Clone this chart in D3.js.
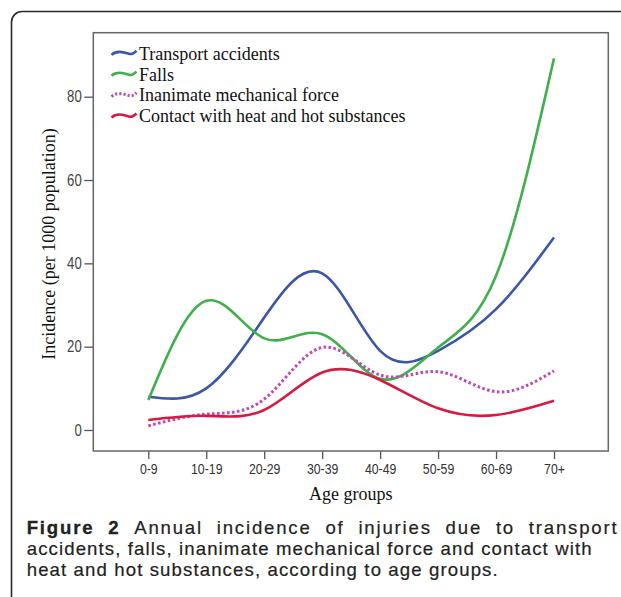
<!DOCTYPE html>
<html><head><meta charset="utf-8">
<script src="https://cdn.jsdelivr.net/npm/d3@7"></script>
<style>
html,body{margin:0;padding:0;background:#fff;}
svg{display:block;}
</style></head>
<body>
<svg id="chart" width="621" height="597"></svg>
<script>
const ageGroups = ["0-9","10-19","20-29","30-39","40-49","50-59","60-69","70+"];
const transport = [8.0, 10.0, 27.0, 37.6, 19.0, 19.0, 29.0, 46.2];
const falls     = [7.2, 31.0, 22.0, 23.0, 12.3, 19.8, 37.0, 89.2];
const inanimate = [1.0, 3.8, 7.4, 19.8, 13.2, 14.0, 9.2, 14.2];
const heat      = [2.4, 3.4, 4.8, 13.8, 12.0, 5.2, 3.6, 7.0];
const yTicks = [0, 20, 40, 60, 80];
const seriesNames = ["Transport accidents","Falls","Inanimate mechanical force","Contact with heat and hot substances"];
const seriesColors = ["#3c56a8","#3fb04b","#c04ab4","#d81a42"];
const xTitle = "Age groups";
const yTitle = "Incidence (per 1000 population)";
const captionBold = "Figure 2";
const captionLines = [
  "Annual incidence of injuries due to transport",
  "accidents, falls, inanimate mechanical force and contact with",
  "heat and hot substances, according to age groups."
];

const series = [transport, falls, inanimate, heat];
const svg = d3.select("#chart");

// card border
svg.append("path")
  .attr("d", "M11.5,597 V22 A10.5,10.5 0 0 1 22,11.5 H621")
  .attr("fill","none").attr("stroke","#2a2a2a").attr("stroke-width",1.6);

const L = 93.3, T = 32.7, R = 608.3, B = 451;
const x = d3.scalePoint().domain(ageGroups).range([148.3, 554]);
const y = d3.scaleLinear().domain([0, 80]).range([430, 96.7]);

const sans = "'Liberation Sans',Arial,sans-serif";
const serif = "'Liberation Serif','Times New Roman',serif";
const squeeze = 0.82;

// y axis
const ya = svg.append("g").attr("transform", `translate(${L},0)`)
  .call(d3.axisLeft(y).tickValues(yTicks).tickSize(9).tickPadding(2).tickFormat(d3.format("d")));
ya.select(".domain").remove();
ya.selectAll("line").attr("stroke","#555").attr("stroke-width",1.3);
ya.selectAll("text").attr("fill","#444").style("font-family",sans).style("font-size","16px")
  .attr("x", -11.6/squeeze).attr("transform", `scale(${squeeze},1)`);

// x axis
const xa = svg.append("g").attr("transform", `translate(0,${B})`)
  .call(d3.axisBottom(x).tickSize(8).tickPadding(4));
xa.select(".domain").remove();
xa.selectAll("line").attr("stroke","#555").attr("stroke-width",1.3);
xa.selectAll("text").attr("fill","#333").style("font-family",sans).style("font-size","15px")
  .attr("transform", `scale(${squeeze},1)`);

// frame
svg.append("rect").attr("x",L).attr("y",T).attr("width",R-L).attr("height",B-T)
  .attr("fill","none").attr("stroke","#666").attr("stroke-width",1.5);

// lines
const line = d3.line().x((d,i)=>x(ageGroups[i])).y(d=>y(d)).curve(d3.curveNatural);
series.forEach((s, k) => {
  svg.append("path").datum(s).attr("d", line)
    .attr("fill","none").attr("stroke", seriesColors[k])
    .attr("stroke-width", k===2 ? 3 : 2.6)
    .attr("stroke-dasharray", k===2 ? "2.6,2.4" : null)
    .attr("stroke-linecap", "butt");
});

// legend
const lg = svg.append("g");
seriesNames.forEach((n, i) => {
  const cy = 53.3 + i*20.9;
  lg.append("path")
    .attr("d", `M111.5,${cy+1.5} C117,${cy-3.5} 124,${cy-1} 129,${cy+0.5} C132,${cy+1.5} 134.5,${cy-0.5} 136.5,${cy-2.5}`)
    .attr("fill","none").attr("stroke", seriesColors[i]).attr("stroke-width", i===2?3:2.6)
    .attr("stroke-dasharray", i===2 ? "2.2,2" : null);
  lg.append("text").attr("x",139).attr("y",cy).attr("dy","0.35em")
    .style("font-family",serif).style("font-size","18px").attr("fill","#111").text(n);
});

// axis titles
svg.append("text").attr("x",(L+R)/2).attr("y",500).attr("text-anchor","middle")
  .style("font-family",serif).style("font-size","18px").attr("fill","#111").text(xTitle);
svg.append("text").attr("transform","translate(55,244) rotate(-90)").attr("text-anchor","middle")
  .style("font-family",serif).style("font-size","18px").attr("fill","#111").text(yTitle);

// caption (three lines; line 1 justified)
const capFont = "'Liberation Sans',Arial,sans-serif";
const capX = 26.7, capRight = 616.7, capW = 400;
function measure(str, weight, size, ls) {
  const t = svg.append("text").style("font-family",capFont).style("font-weight",weight)
    .style("font-size",size+"px").style("letter-spacing",(ls||0)+"px").text(str);
  const w = t.node().getComputedTextLength();
  t.remove();
  return w;
}
const fsFit = 10 * 566 / measure(captionLines[1], capW, 10, 0);
const fs = Math.min(fsFit, 18.6);
const ls2 = Math.max(0, (566 - measure(captionLines[1], capW, fs, 0)) / captionLines[1].length);
const ls1 = ls2 + 0.7;
const words1 = captionBold.split(" ").map(w => ({w, bold:true}))
  .concat(captionLines[0].split(" ").map(w => ({w, bold:false})));
words1.forEach(o => { o.width = measure(o.w, o.bold ? 700 : capW, fs, ls1); });
const totalW = d3.sum(words1, o => o.width);
const gap = (capRight - capX - totalW + ls1) / (words1.length - 1);
const cap1 = svg.append("text").style("font-family",capFont).style("font-size",fs+"px")
  .style("font-weight",capW).attr("fill","#222");
let cx = capX;
words1.forEach(o => {
  cap1.append("tspan").attr("x",cx).attr("y",534).style("letter-spacing",ls1+"px")
    .style("font-weight", o.bold ? 700 : capW)
    .attr("stroke", "#222").attr("stroke-width", o.bold ? 0.3 : 0.2)
    .text(o.w);
  cx += o.width + gap;
});
[captionLines[1], captionLines[2]].forEach((t, i) => {
  svg.append("text").attr("x",capX).attr("y",555 + i*21).style("font-family",capFont)
    .style("font-size",fs+"px").style("font-weight",capW).style("letter-spacing",ls2+"px")
    .attr("stroke","#222").attr("stroke-width",0.2)
    .attr("fill","#222").text(t);
});
</script>
</body></html>
